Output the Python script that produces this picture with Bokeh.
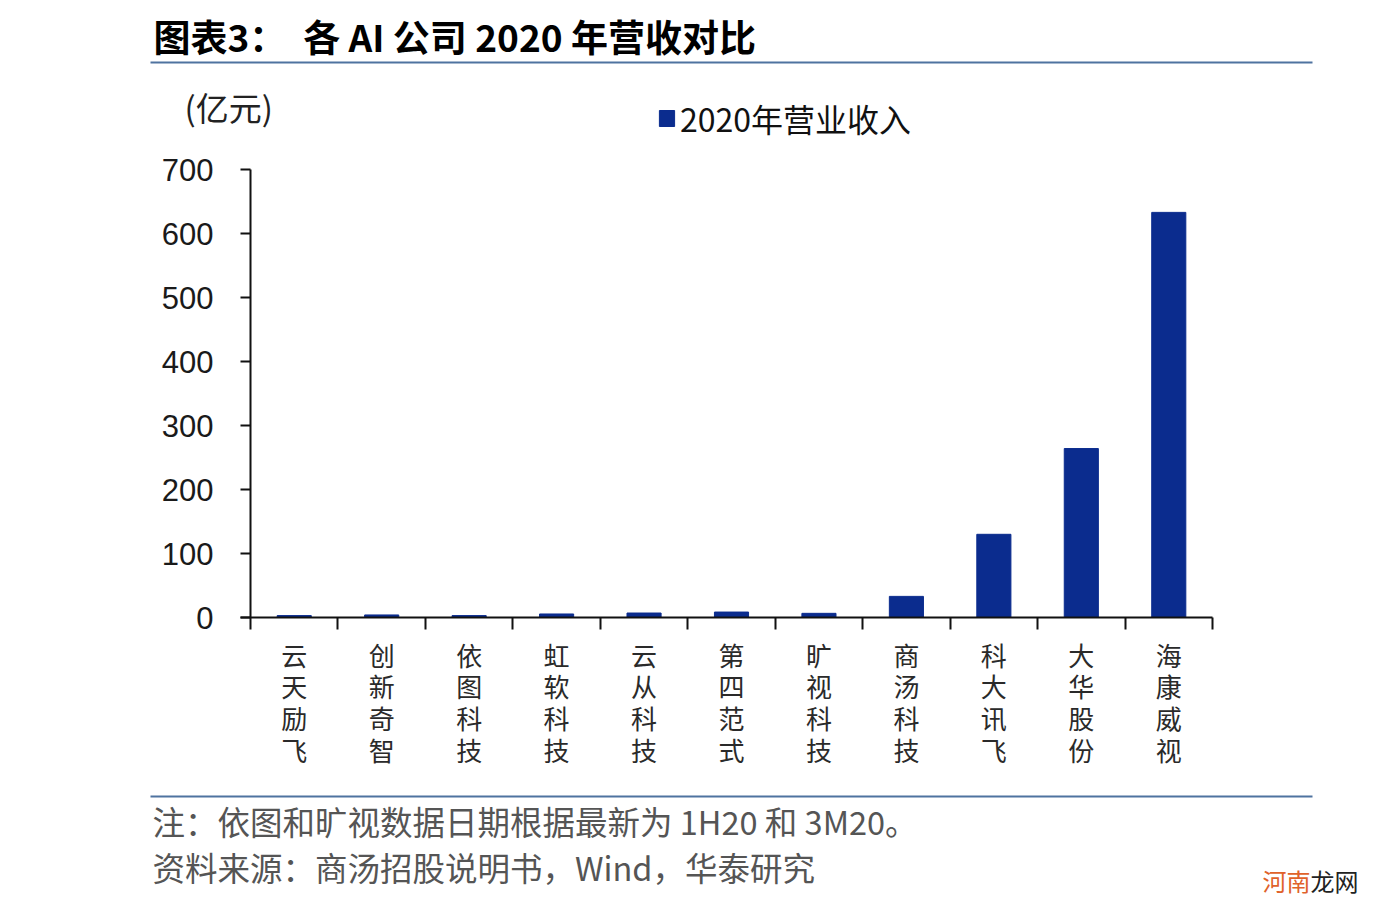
from bokeh.plotting import figure
from bokeh.models import (Range1d, FixedTicker, Label, BoxAnnotation, Legend, LegendItem)
from bokeh.embed import file_html
from bokeh.resources import INLINE

# ---- data ----
companies = ["云天励飞", "创新奇智", "依图科技", "虹软科技", "云从科技", "第四范式",
             "旷视科技", "商汤科技", "科大讯飞", "大华股份", "海康威视"]
revenue_2020 = [3.0, 4.0, 3.0, 5.5, 7.0, 8.5, 6.5, 33.0, 130.0, 264.0, 633.0]
y_ticks = [0, 100, 200, 300, 400, 500, 600, 700]
series_name = "2020年营业收入"
title_text = "图表3：\u00a0\u00a0各 AI 公司 2020 年营收对比"
unit_text = "(亿元)"
note_text = "注：依图和旷视数据日期根据最新为 1H20 和 3M20。"
source_text = "资料来源：商汤招股说明书，Wind，华泰研究"

# ---- layout (pixel positions on the canvas) ----
W, H = 1390, 905
AX0, AX1 = 250, 1212      # x of category 0 boundary and last boundary
AY0, AY1 = 617, 169       # y of value 0 and value 700
n = len(companies)
ymax = y_ticks[-1]
kx = (AX1 - AX0) / n          # px per category
ky = (AY0 - AY1) / ymax       # px per unit

x_range = Range1d(-AX0 / kx, (W - AX0) / kx)
y_range = Range1d(-(H - AY0) / ky, AY0 / ky)

p = figure(width=W, height=H, output_backend="svg", toolbar_location=None,
           x_range=x_range, y_range=y_range, min_border=0)
p.outline_line_color = None
p.grid.visible = False
p.background_fill_color = "white"
p.border_fill_color = "white"

def dx(px):
    return (px - AX0) / kx
def dy(py):
    return (AY0 - py) / ky

centers = [i + 0.5 for i in range(n)]
r = p.vbar(x=centers, top=revenue_2020, width=0.39, fill_color="#0b2c8e",
           line_color="#0b2c8e")

# y axis
ya = p.yaxis[0]
ya.fixed_location = 0
ya.bounds = (0, ymax)
ya.ticker = FixedTicker(ticks=y_ticks)
ya.major_tick_out = 10
ya.major_tick_in = 0
ya.minor_tick_out = 0
ya.minor_tick_in = 0
ya.axis_line_color = "#111111"
ya.axis_line_width = 2
ya.major_tick_line_color = "#111111"
ya.major_tick_line_width = 2
ya.major_label_text_font = "Liberation Sans"
ya.major_label_text_font_size = "31px"
ya.major_label_text_color = "#1a1a1a"
ya.major_label_standoff = 27

# x axis: boundary ticks between categories (no tick labels)
xa = p.xaxis[0]
xa.fixed_location = 0
xa.bounds = (-10 / kx, n)
xa.ticker = FixedTicker(ticks=[], minor_ticks=list(range(n + 1)))
xa.major_tick_out = 0
xa.major_tick_in = 0
xa.minor_tick_out = 12
xa.minor_tick_in = 0
xa.axis_line_color = "#111111"
xa.axis_line_width = 2
xa.minor_tick_line_color = "#111111"
xa.minor_tick_line_width = 2

# category labels (vertical)
for i, name in enumerate(companies):
    p.add_layout(Label(x=centers[i], y=dy(635), text="\n".join(name),
                       text_font="Noto Sans CJK SC", text_font_size="26px",
                       text_color="#2a2a2a", text_align="center",
                       text_baseline="top", text_line_height=0.86))

# legend
legend = Legend(items=[LegendItem(label=series_name, renderers=[r])],
                location=(657, H - 141), orientation="horizontal",
                glyph_width=19, glyph_height=20, label_height=38,
                label_text_font="Noto Sans CJK SC",
                label_text_font_size="32px", label_text_color="#111111",
                label_standoff=4, padding=0, margin=0, border_line_color=None,
                background_fill_alpha=0)
p.add_layout(legend, "center")

# unit label
p.add_layout(Label(x=dx(184), y=dy(106), text=unit_text, text_font="Noto Sans CJK SC",
                   text_font_size="33px", text_color="#222222",
                   text_align="left", text_baseline="middle"))

# title and rules
p.add_layout(Label(x=dx(153), y=dy(35), text=title_text, text_font="Noto Sans CJK SC",
                   text_font_style="bold", text_font_size="37px", text_color="#000000",
                   text_align="left", text_baseline="middle"))
p.add_layout(BoxAnnotation(left=dx(150), right=dx(1312), top=dy(61), bottom=dy(63),
                           fill_color="#4f73a0", fill_alpha=1, line_color=None))
p.add_layout(BoxAnnotation(left=dx(150), right=dx(1312), top=dy(795), bottom=dy(797),
                           fill_color="#4f73a0", fill_alpha=1, line_color=None))

# footer
p.add_layout(Label(x=dx(152), y=dy(820), text=note_text, text_font="Noto Sans CJK SC",
                   text_font_size="32.5px", text_color="#555555",
                   text_align="left", text_baseline="middle"))
p.add_layout(Label(x=dx(152), y=dy(866), text=source_text, text_font="Noto Sans CJK SC",
                   text_font_size="32.5px", text_color="#555555",
                   text_align="left", text_baseline="middle"))

# watermark
p.add_layout(Label(x=dx(1262), y=dy(880), text="河南", text_font="Noto Sans CJK SC",
                   text_font_size="24px", text_color="#e0622a",
                   text_align="left", text_baseline="middle"))
p.add_layout(Label(x=dx(1310), y=dy(880), text="龙网", text_font="Noto Sans CJK SC",
                   text_font_size="24px", text_color="#222222",
                   text_align="left", text_baseline="middle"))

open("out.html", "w").write(file_html(p, INLINE))
